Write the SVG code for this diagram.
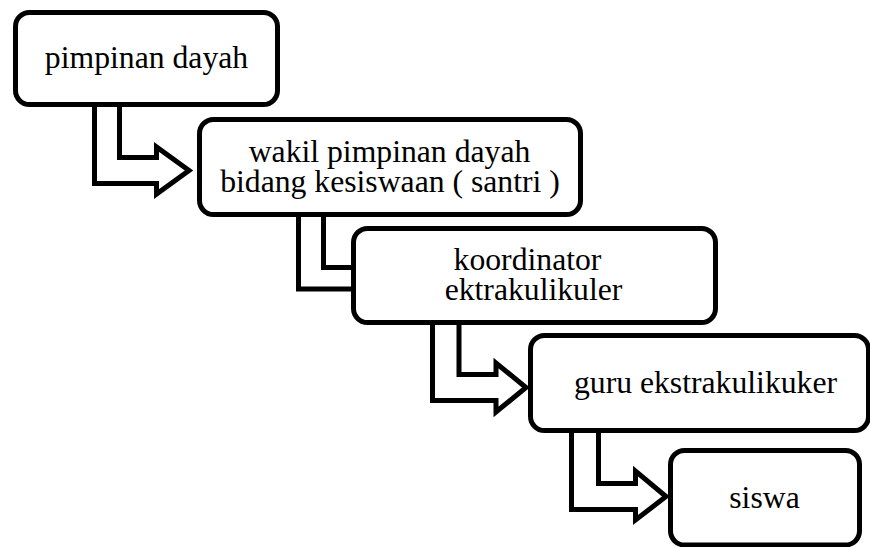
<svg xmlns="http://www.w3.org/2000/svg" width="870" height="547" viewBox="0 0 870 547">
<style>
.box{fill:#fff;stroke:#000;stroke-width:5}
.arr{fill:#fff;stroke:#000;stroke-width:5;stroke-linejoin:miter}
text{font-family:"Liberation Serif","Times New Roman",serif;font-size:31.7px;fill:#000;text-anchor:middle}
</style>
<rect width="870" height="547" fill="#fff"/>
<g id="connectors">
<path class="arr" d="M94.5,100 V183.5 H156.5 V194 L189,170.5 L156.5,147 V157.5 H119.5 V100 Z"/>
<path class="arr" d="M298.5,210 V289 H362 V300 L394,278 L362,256 V267.5 H323.5 V210 Z"/>
<path class="arr" d="M432.5,318 V400.5 H496 V412 L526,387.5 L496,363 V374.5 H459 V318 Z"/>
<path class="arr" d="M571.5,426 V509.5 H635.5 V520 L666,496.5 L635.5,471 V483.5 H598.5 V426 Z"/>
</g>
<g id="n1">
<rect class="box" x="15.5" y="12.5" width="262" height="92" rx="14"/>
<text x="146.5" y="68">pimpinan dayah</text>
</g>
<g id="n2">
<rect class="box" x="199.5" y="119.5" width="381" height="95" rx="14"/>
<text x="389.5" y="162">wakil pimpinan dayah</text>
<text x="390" y="192">bidang kesiswaan ( santri )</text>
</g>
<g id="n3">
<rect class="box" x="353.5" y="228.5" width="362" height="94" rx="14"/>
<text x="527.5" y="270">koordinator</text>
<text x="533.5" y="300">ektrakulikuler</text>
</g>
<g id="n4">
<rect class="box" x="530.5" y="335.5" width="338" height="95" rx="14"/>
<text x="705.5" y="393">guru ekstrakulikuker</text>
</g>
<g id="n5">
<rect class="box" x="670.5" y="450.5" width="189" height="94.5" rx="14"/>
<text x="764.5" y="508">siswa</text>
</g>
</svg>
